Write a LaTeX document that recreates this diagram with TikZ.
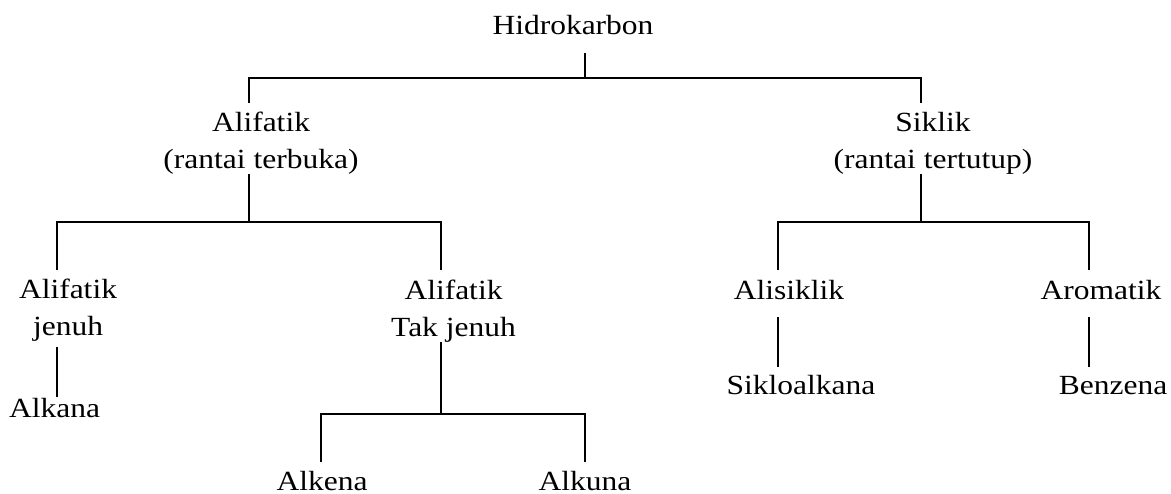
\documentclass[tikz,border=0pt]{standalone}
\usepackage{fontspec}
\setmainfont{Liberation Serif}
\usepackage{graphicx}
\newcommand{\sqz}[1]{\scalebox{1}[0.88]{#1}}
\newcommand{\twoline}[2]{\sqz{\begin{tabular}[t]{@{}c@{}}#1\\#2\end{tabular}}}
\begin{document}
\begin{tikzpicture}[x=1pt,y=-1pt,
  lbl/.style={anchor=base, inner sep=0pt, font=\fontsize{31.5}{41.7}\selectfont},
  conn/.style={line width=1.3pt, line join=miter}]
\useasboundingbox (0,0) rectangle (1171,494);
% labels
\node[lbl] (hc) at (573,35) {\sqz{Hidrokarbon}};
\node[lbl] (ali) at (261,131.7) {\twoline{Alifatik}{(rantai terbuka)}};
\node[lbl] (sik) at (933,131.7) {\twoline{Siklik}{(rantai tertutup)}};
\node[lbl] (aj) at (68,299) {\twoline{Alifatik}{jenuh}};
\node[lbl] (atj) at (453.5,299.5) {\twoline{Alifatik}{Tak jenuh}};
\node[lbl] (als) at (789,300) {\sqz{Alisiklik}};
\node[lbl] (aro) at (1101,300) {\sqz{Aromatik}};
\node[lbl] (alkana) at (54.5,418) {\sqz{Alkana}};
\node[lbl] (siklo) at (801,395) {\sqz{Sikloalkana}};
\node[lbl] (benz) at (1113,395) {\sqz{Benzena}};
\node[lbl] (alkena) at (322,490) {\sqz{Alkena}};
\node[lbl] (alkuna) at (585,490) {\sqz{Alkuna}};
% connector end points
\coordinate (hc-out) at (585,53);
\coordinate (bus1) at (585,78);
\coordinate (ali-in) at (249,102.7);
\coordinate (sik-in) at (921,102.7);
\coordinate (ali-out) at (249,174);
\coordinate (bus2) at (249,222);
\coordinate (aj-in) at (57,270);
\coordinate (atj-in) at (441,270);
\coordinate (sik-out) at (921,174);
\coordinate (bus3) at (921,222);
\coordinate (als-in) at (778,270.5);
\coordinate (aro-in) at (1089,270.5);
\coordinate (aj-out) at (57,347);
\coordinate (alkana-in) at (57,397);
\coordinate (atj-out) at (441,342);
\coordinate (bus4) at (441,414);
\coordinate (alkena-in) at (321,462);
\coordinate (alkuna-in) at (585,462);
\coordinate (als-out) at (778,317);
\coordinate (siklo-in) at (778,367);
\coordinate (aro-out) at (1089,317);
\coordinate (benz-in) at (1089,367);
% connectors
\draw[conn] (hc-out) -- (bus1);
\draw[conn] (ali-in) |- (bus1) -| (sik-in);
\draw[conn] (ali-out) -- (bus2);
\draw[conn] (aj-in) |- (bus2) -| (atj-in);
\draw[conn] (sik-out) -- (bus3);
\draw[conn] (als-in) |- (bus3) -| (aro-in);
\draw[conn] (aj-out) -- (alkana-in);
\draw[conn] (atj-out) -- (bus4);
\draw[conn] (alkena-in) |- (bus4) -| (alkuna-in);
\draw[conn] (als-out) -- (siklo-in);
\draw[conn] (aro-out) -- (benz-in);
\end{tikzpicture}
\end{document}
